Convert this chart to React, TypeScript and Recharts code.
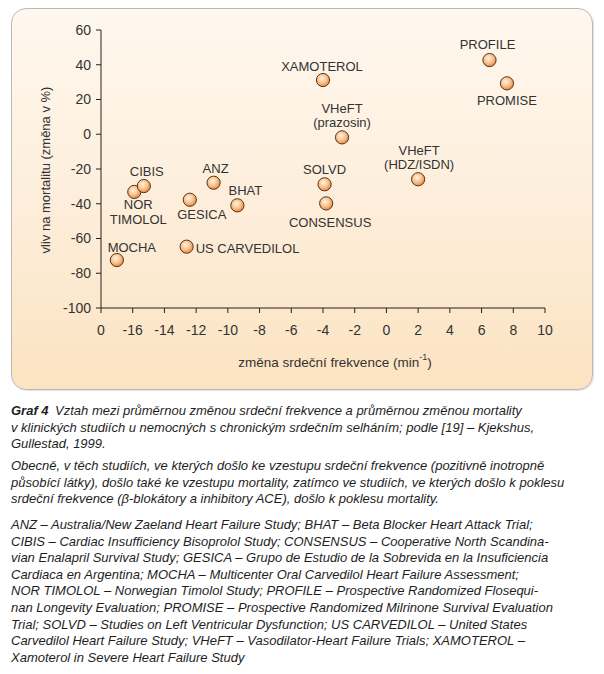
import React from "react";
import { Label, Scatter, ScatterChart, XAxis, YAxis } from "recharts";

// studies, heart-rate change (min-1) and mortality change (%)
const studies = [
  "MOCHA",
  "NOR TIMOLOL",
  "CIBIS",
  "GESICA",
  "US CARVEDILOL",
  "ANZ",
  "BHAT",
  "SOLVD",
  "CONSENSUS",
  "VHeFT (HDZ/ISDN)",
  "XAMOTEROL",
  "VHeFT (prazosin)",
  "PROFILE",
  "PROMISE",
];
const heartRateChange = [-17.0, -15.9, -15.3, -12.4, -12.6, -10.9, -9.4, -3.9, -3.8, 2.0, -4.0, -2.8, 6.5, 7.6];
const mortalityChange = [-72.4, -33.2, -29.8, -37.7, -64.7, -27.9, -40.9, -28.8, -39.8, -25.9, 31.2, -1.8, 42.7, 29.3];

const xTicks = [-18, -16, -14, -12, -10, -8, -6, -4, -2, 0, 2, 4, 6, 8, 10];
const yTicks = [-100, -80, -60, -40, -20, 0, 20, 40, 60];

// where each study label sits relative to its marker
const labelLayout: Record<string, { dx: number; dy: number; anchor?: string; split?: boolean }> = {
  MOCHA: { dx: 15, dy: -13 },
  "NOR TIMOLOL": { dx: 4, dy: 13, split: true },
  CIBIS: { dx: 3, dy: -15 },
  GESICA: { dx: 12, dy: 15 },
  "US CARVEDILOL": { dx: 9, dy: 1.5, anchor: "start" },
  ANZ: { dx: 2, dy: -14 },
  BHAT: { dx: 8, dy: -15 },
  SOLVD: { dx: 0, dy: -15 },
  CONSENSUS: { dx: 4, dy: 19 },
  "VHeFT (HDZ/ISDN)": { dx: 1, dy: -29, split: true },
  XAMOTEROL: { dx: -1, dy: -14 },
  "VHeFT (prazosin)": { dx: 0, dy: -29, split: true },
  PROFILE: { dx: -2, dy: -16 },
  PROMISE: { dx: 0, dy: 17 },
};

const points = studies.map((name, i) => ({
  name,
  x: heartRateChange[i],
  y: mortalityChange[i],
}));

const FONT = '"Liberation Sans", Arial, Helvetica, sans-serif';
const TEXT = "#333";
const AXIS = "#222";

function Ball(props: any) {
  const { cx, cy, payload } = props;
  const lay = labelLayout[payload.name] ?? { dx: 0, dy: -15 };
  const lines = lay.split ? payload.name.split(" ") : [payload.name];
  return (
    <g>
      <circle cx={cx} cy={cy} r={6.6} fill="url(#ballGrad)" stroke="#5a3418" strokeWidth={1} />
      {lines.map((ln: string, k: number) => (
        <text
          key={k}
          x={cx + lay.dx}
          y={cy + lay.dy + k * 14.5}
          textAnchor={lay.anchor ?? "middle"}
          dominantBaseline="central"
          fontSize={13}
          fontFamily={FONT}
          fill={TEXT}
        >
          {ln}
        </text>
      ))}
    </g>
  );
}

const captionStyle: React.CSSProperties = {
  position: "absolute",
  left: 11,
  width: 590,
  fontFamily: FONT,
  fontStyle: "italic",
  fontSize: 13,
  lineHeight: "16.6px",
  color: "#1e1e1e",
  whiteSpace: "nowrap",
};

export default function App() {
  return (
    <div style={{ position: "absolute", left: 0, top: 0, width: 604, height: 674, background: "#fff" }}>
      <div
        style={{
          position: "absolute",
          left: 11,
          top: 8,
          width: 580,
          height: 380,
          border: "1px solid #b9b9b9",
          borderRadius: 15,
          background: "linear-gradient(180deg, #fff8ef 0%, #fdeedb 50%, #fce3c1 100%)",
          boxShadow: "1px 1px 1px rgba(0,0,0,0.12)",
        }}
      />
      <div style={{ position: "absolute", left: 0, top: 0 }}>
        <ScatterChart width={604} height={400} margin={{ top: 30, right: 59, bottom: 62, left: 0 }}>
          <defs>
            <radialGradient id="ballGrad" cx="42%" cy="38%" r="62%">
              <stop offset="0%" stopColor="#fff4e8" />
              <stop offset="55%" stopColor="#f9c48f" />
              <stop offset="100%" stopColor="#e88a48" />
            </radialGradient>
          </defs>
          <XAxis
            type="number"
            dataKey="x"
            domain={[-18, 10]}
            ticks={xTicks}
            allowDataOverflow
            height={30}
            tickSize={5}
            tickMargin={12}
            stroke={AXIS}
            tick={{ fill: TEXT, fontSize: 14, fontFamily: FONT }}
            tickFormatter={(v: number) => (v === -18 ? "0" : String(v))}
          >
            <Label
              content={() => (
                <text x={335} y={362} textAnchor="middle" dominantBaseline="central" fontSize={13.5} fontFamily={FONT} fill={TEXT}>
                  změna srdeční frekvence (min
                  <tspan fontSize={9} dy={-5}>-1</tspan>
                  <tspan dy={5}>)</tspan>
                </text>
              )}
            />
          </XAxis>
          <YAxis
            type="number"
            dataKey="y"
            domain={[-100, 60]}
            ticks={yTicks}
            allowDataOverflow
            width={101}
            tickSize={5}
            tickMargin={5}
            stroke={AXIS}
            tick={{ fill: TEXT, fontSize: 14, fontFamily: FONT }}
          >
            <Label
              content={() => (
                <text
                  x={45}
                  y={170}
                  transform="rotate(-90 45 170)"
                  textAnchor="middle"
                  dominantBaseline="central"
                  fontSize={13}
                  fontFamily={FONT}
                  fill={TEXT}
                >
                  vliv na mortalitu (změna v %)
                </text>
              )}
            />
          </YAxis>
          <Scatter data={points} shape={Ball} isAnimationActive={false} />
        </ScatterChart>
      </div>

      <div style={{ ...captionStyle, top: 403 }}>
        <div>
          <b>Graf 4</b>&ensp;Vztah mezi průměrnou změnou srdeční frekvence a průměrnou změnou mortality
        </div>
        <div>v klinických studiích u nemocných s chronickým srdečním selháním; podle [19] – Kjekshus,</div>
        <div>Gullestad, 1999.</div>
      </div>
      <div style={{ ...captionStyle, top: 458 }}>
        <div>Obecně, v těch studiích, ve kterých došlo ke vzestupu srdeční frekvence (pozitivně inotropně</div>
        <div>působící látky), došlo také ke vzestupu mortality, zatímco ve studiích, ve kterých došlo k poklesu</div>
        <div>srdeční frekvence (β-blokátory a inhibitory ACE), došlo k poklesu mortality.</div>
      </div>
      <div style={{ ...captionStyle, top: 517 }}>
        <div>ANZ – Australia/New Zaeland Heart Failure Study; BHAT – Beta Blocker Heart Attack Trial;</div>
        <div>CIBIS – Cardiac Insufficiency Bisoprolol Study; CONSENSUS – Cooperative North Scandina-</div>
        <div>vian Enalapril Survival Study; GESICA – Grupo de Estudio de la Sobrevida en la Insuficiencia</div>
        <div>Cardiaca en Argentina; MOCHA – Multicenter Oral Carvedilol Heart Failure Assessment;</div>
        <div>NOR TIMOLOL – Norwegian Timolol Study; PROFILE – Prospective Randomized Flosequi-</div>
        <div>nan Longevity Evaluation; PROMISE – Prospective Randomized Milrinone Survival Evaluation</div>
        <div>Trial; SOLVD – Studies on Left Ventricular Dysfunction; US CARVEDILOL – United States</div>
        <div>Carvedilol Heart Failure Study; VHeFT – Vasodilator-Heart Failure Trials; XAMOTEROL –</div>
        <div>Xamoterol in Severe Heart Failure Study</div>
      </div>
    </div>
  );
}
